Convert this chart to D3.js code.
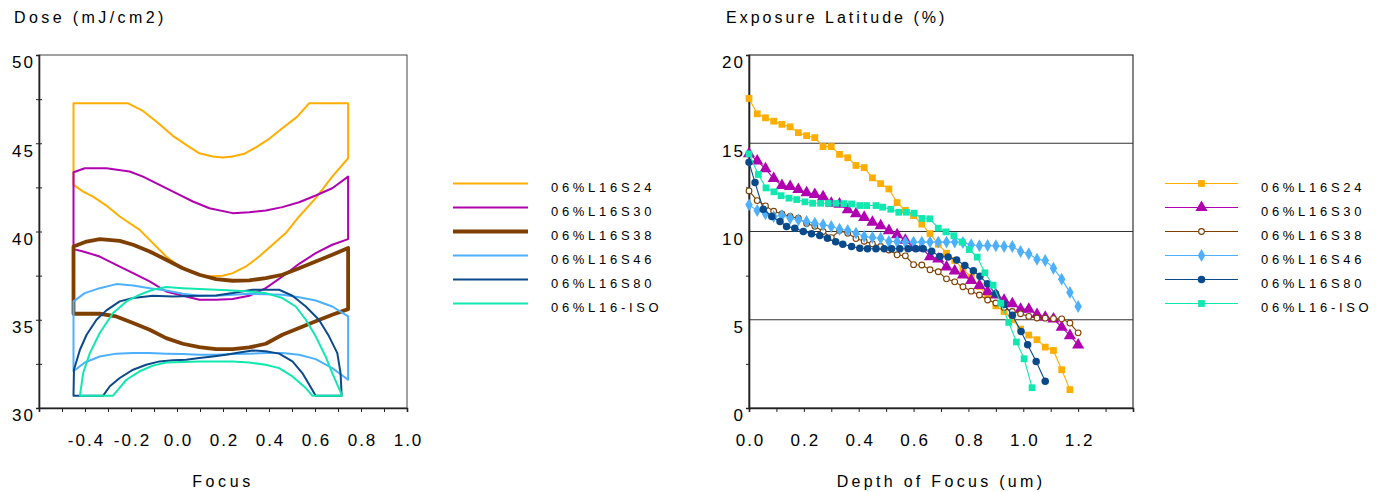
<!DOCTYPE html>
<html><head><meta charset="utf-8">
<script src="https://cdn.jsdelivr.net/npm/d3@7"></script>
<style>
body{margin:0;background:#fff;}
svg{display:block;}
text{font-family:"Liberation Sans",Arial,sans-serif;fill:#000;}
</style></head><body>
<svg id="c" width="1384" height="492"></svg>
<script>
// ---------- DATA ----------
const seriesNames = ["06%L16S24","06%L16S30","06%L16S38","06%L16S46","06%L16S80","06%L16-ISO"];
const seriesColors = ["#FFAE00","#B000B0","#7F3F00","#4DB0FF","#0B4A8A","#10E8B0"];
const leftWidths = [2,2,3.8,2,2,2];

// Left chart: process-window contours (focus, dose). Upper edge left->right, lower edge right->left.
const s24Upper = [[-0.45,47.26],[-0.213,47.26],[-0.148,46.83],[-0.09,46.23],[-0.018,45.42],[0.04,44.91],[0.097,44.43],[0.155,44.25],[0.199,44.19],[0.242,44.25],[0.292,44.40],[0.343,44.77],[0.401,45.25],[0.458,45.85],[0.523,46.51],[0.574,47.26],[0.744,47.26]];
const s24Lower = [[0.744,44.15],[0.675,43.11],[0.603,41.89],[0.531,40.85],[0.473,39.91],[0.415,39.25],[0.357,38.58],[0.30,38.02],[0.242,37.64],[0.199,37.49],[0.126,37.45],[0.069,37.64],[0.011,38.02],[-0.047,38.58],[-0.105,39.34],[-0.162,40.09],[-0.249,40.85],[-0.307,41.47],[-0.365,41.98],[-0.408,42.26],[-0.45,42.64]];
const s30Upper = [[-0.45,43.36],[-0.401,43.58],[-0.307,43.58],[-0.206,43.40],[-0.148,43.11],[-0.076,42.64],[-0.004,42.17],[0.069,41.70],[0.141,41.32],[0.242,41.04],[0.314,41.09],[0.386,41.19],[0.458,41.38],[0.531,41.66],[0.603,42.04],[0.675,42.45],[0.744,43.11]];
const s30Lower = [[0.744,39.57],[0.675,39.25],[0.603,38.77],[0.531,38.17],[0.458,37.45],[0.386,36.79],[0.314,36.36],[0.242,36.17],[0.170,36.13],[0.097,36.13],[0.040,36.32],[-0.047,36.60],[-0.119,37.17],[-0.191,37.64],[-0.264,38.11],[-0.336,38.58],[-0.408,38.87],[-0.45,39.0]];
const s38Upper = [[-0.45,39.15],[-0.393,39.43],[-0.336,39.57],[-0.249,39.47],[-0.191,39.25],[-0.119,38.87],[-0.047,38.40],[0.025,37.92],[0.097,37.55],[0.170,37.30],[0.242,37.21],[0.314,37.23],[0.386,37.36],[0.458,37.55],[0.531,37.92],[0.603,38.30],[0.675,38.68],[0.744,39.06]];
const s38Lower = [[0.744,35.60],[0.675,35.28],[0.603,34.91],[0.531,34.53],[0.458,34.15],[0.386,33.64],[0.314,33.43],[0.242,33.34],[0.170,33.34],[0.097,33.45],[0.025,33.64],[-0.047,33.96],[-0.119,34.43],[-0.191,34.81],[-0.264,35.19],[-0.336,35.34],[-0.45,35.34]];
const s46Upper = [[-0.45,36.04],[-0.401,36.51],[-0.336,36.79],[-0.264,37.02],[-0.191,36.94],[-0.119,36.79],[-0.047,36.66],[0.025,36.47],[0.097,36.36],[0.170,36.36],[0.242,36.42],[0.314,36.47],[0.386,36.45],[0.458,36.42],[0.531,36.28],[0.603,36.09],[0.675,35.75],[0.744,35.19]];
const s46Lower = [[0.744,31.60],[0.675,32.26],[0.603,32.77],[0.531,33.02],[0.458,33.11],[0.386,33.11],[0.314,33.08],[0.242,33.06],[0.170,33.02],[0.097,33.02],[0.025,33.06],[-0.047,33.08],[-0.119,33.11],[-0.191,33.11],[-0.264,33.08],[-0.336,32.92],[-0.401,32.58],[-0.45,32.08]];
const s80Upper = [[-0.45,30.70],[-0.448,32.17],[-0.422,33.30],[-0.393,34.15],[-0.350,35.0],[-0.307,35.53],[-0.249,36.04],[-0.191,36.23],[-0.105,36.36],[-0.018,36.32],[0.097,36.36],[0.170,36.38],[0.242,36.51],[0.329,36.70],[0.444,36.70],[0.502,36.36],[0.560,35.75],[0.617,35.0],[0.661,34.06],[0.697,33.11],[0.711,31.98],[0.716,30.70]];
const s80Lower = [[0.603,30.70],[0.588,31.04],[0.545,31.98],[0.502,32.64],[0.444,33.08],[0.386,33.21],[0.329,33.26],[0.271,33.15],[0.213,33.02],[0.155,32.92],[0.097,32.83],[0.040,32.74],[-0.018,32.70],[-0.076,32.64],[-0.134,32.45],[-0.191,32.17],[-0.249,31.70],[-0.292,31.23],[-0.321,30.70],[-0.45,30.70]];
const isoUpper = [[-0.422,30.70],[-0.408,31.98],[-0.379,33.11],[-0.336,34.25],[-0.278,35.38],[-0.220,36.04],[-0.162,36.42],[-0.105,36.70],[-0.047,36.85],[0.025,36.79],[0.097,36.74],[0.170,36.70],[0.242,36.66],[0.314,36.60],[0.386,36.51],[0.458,36.23],[0.516,35.75],[0.560,35.0],[0.603,34.06],[0.646,32.92],[0.675,31.98],[0.718,30.70]];
const isoLower = [[0.588,30.70],[0.560,31.13],[0.502,31.79],[0.444,32.26],[0.386,32.45],[0.314,32.58],[0.242,32.64],[0.097,32.64],[-0.047,32.58],[-0.105,32.40],[-0.162,32.08],[-0.220,31.60],[-0.278,30.70],[-0.422,30.70]];

// Right chart: exposure latitude (%) vs depth of focus (um)
const dofGrid = [0,0.03,0.06,0.09,0.12,0.15,0.18,0.21,0.24,0.27,0.30,0.33,0.36,0.39,0.42,0.45,0.48,0.51,0.54,0.57,0.60,0.63,0.66,0.69,0.72,0.75,0.78,0.81,0.84,0.87,0.90,0.93,0.96,0.99,1.02,1.05,1.08,1.11,1.14,1.17,1.20];
const elS24 = [17.54,16.67,16.44,16.25,16.07,15.93,15.6,15.43,15.32,14.81,14.81,14.37,14.18,13.74,13.62,13.04,12.71,12.41,11.64,11.2,10.9,10.42,9.88,9.28,8.77,8.36,7.87,7.42,6.89,6.32,5.79,5.47,5.0,4.47,4.13,3.87,3.45,3.26,2.17,1.04];
const elS30 = [14.4,14.0,13.55,13.0,12.6,12.55,12.38,12.2,12.1,11.97,11.6,11.55,11.23,11.0,10.8,10.52,10.33,10.05,9.81,9.5,9.1,9.06,8.57,8.44,7.99,7.76,7.54,7.23,6.94,6.58,6.4,6.1,5.91,5.6,5.6,5.3,5.14,5.04,4.58,4.1,3.57];
const elS38 = [12.3,11.75,11.45,11.15,11.0,10.85,10.75,10.45,10.3,10.0,9.65,10.05,9.9,9.6,9.45,9.3,9.15,8.95,8.68,8.62,8.12,8.1,7.83,7.72,7.32,7.15,6.87,6.62,6.4,6.12,5.95,5.7,5.47,5.34,5.19,5.1,5.09,5.06,5.05,4.81,4.26];
const elS46 = [11.51,11.19,11.0,10.85,10.91,10.75,10.66,10.57,10.47,10.38,10.28,10.13,10.06,9.91,9.72,9.66,9.62,9.43,9.43,9.40,9.40,9.40,9.40,9.40,9.40,9.40,9.38,9.25,9.19,9.21,9.19,9.15,9.15,8.87,8.74,8.43,8.36,7.92,7.30,6.55,5.75];
const dofS80 = [0,0.022,0.052,0.083,0.113,0.137,0.167,0.198,0.228,0.258,0.286,0.316,0.342,0.374,0.404,0.432,0.463,0.493,0.52,0.55,0.58,0.608,0.635,0.666,0.696,0.726,0.757,0.787,0.818,0.842,0.869,0.899,0.93,0.96,0.992,1.016,1.047,1.08];
const elS80 = [13.92,12.77,11.26,10.85,10.57,10.28,10.19,10.0,9.87,9.77,9.62,9.42,9.28,9.15,9.05,9.02,9.02,9.02,9.02,9.02,9.02,9.02,9.02,8.88,8.58,8.56,8.38,8.07,7.78,7.47,7.04,6.47,5.87,5.26,4.34,3.58,2.64,1.51];
const dofISO = [0,0.034,0.062,0.091,0.117,0.146,0.174,0.204,0.232,0.261,0.289,0.317,0.346,0.374,0.404,0.429,0.463,0.487,0.517,0.546,0.574,0.602,0.631,0.659,0.690,0.718,0.747,0.777,0.803,0.832,0.860,0.890,0.918,0.947,0.975,1.003,1.032];
const elISO = [14.4,13.23,12.47,12.25,12.03,11.89,11.81,11.68,11.6,11.6,11.6,11.6,11.58,11.56,11.47,11.47,11.47,11.38,11.26,11.09,11.09,11.04,10.74,10.72,10.19,9.98,9.76,9.4,8.98,8.55,7.66,6.96,5.94,4.85,3.74,2.79,1.15];

// Axis ticks / labels
const focusLabelTicks = [-0.4,-0.2,0.0,0.2,0.4,0.6,0.8,1.0];
const focusMinorTicks = [-0.5,-0.4,-0.3,-0.2,-0.1,0.0,0.1,0.2,0.3,0.4,0.5,0.6,0.7,0.8,0.9,1.0];
const doseLabelTicks = [30,35,40,45,50];
const doseMinorTicks = [32.5,35,37.5,40,42.5,45,47.5];
const dofLabelTicks = [0.0,0.2,0.4,0.6,0.8,1.0,1.2];
const dofMinorTicks = [0.1,0.2,0.3,0.4,0.5,0.6,0.7,0.8,0.9,1.0,1.1,1.2,1.3,1.4];
const elLabelTicks = [0,5,10,15,20];
const elGridTicks = [5,10,15];
const elMinorTicks = [2.5,7.5,12.5,17.5];

// ---------- DRAW ----------
const svg = d3.select("#c");
const fmt = d => d.toFixed(1);
const tickFont = {size:"17px", ls:"2px"};

// ===== Left chart =====
const xL = d3.scaleLinear().domain([-0.6,1.0]).range([39,407]);
const yL = d3.scaleLinear().domain([30,50]).range([408,55]);
const gL = svg.append("g");

gL.append("rect").attr("x",xL(-0.6)).attr("y",yL(50)).attr("width",xL(1.0)-xL(-0.6)).attr("height",yL(30)-yL(50))
  .attr("fill","none").attr("stroke","#444").attr("stroke-width",1);

const contours = [[s24Upper,s24Lower],[s30Upper,s30Lower],[s38Upper,s38Lower],[s46Upper,s46Lower],[s80Upper,s80Lower],[isoUpper,isoLower]];
const lineL = d3.line().x(d=>xL(d[0])).y(d=>yL(d[1]));
contours.forEach((c,i)=>{
  gL.append("path").attr("d", lineL(c[0].concat(c[1])) + "Z")
    .attr("fill","none").attr("stroke",seriesColors[i]).attr("stroke-width",leftWidths[i]).attr("stroke-linejoin","round");
});

function styleLabels(sel){
  sel.selectAll("text").attr("font-family","Liberation Sans").style("font-size",tickFont.size).style("letter-spacing",tickFont.ls).attr("fill","#000");
}

const axL_minor = gL.append("g").attr("transform",`translate(0,${yL(30)})`)
  .call(d3.axisBottom(xL).tickValues(focusMinorTicks).tickSize(4).tickFormat(""));
axL_minor.select(".domain").attr("stroke","#222").attr("stroke-width",1.6);
axL_minor.selectAll(".tick line").attr("stroke","#222");
const axL_lab = gL.append("g").attr("transform",`translate(0,${yL(30)})`)
  .call(d3.axisBottom(xL).tickValues(focusLabelTicks).tickSize(0).tickPadding(26).tickFormat(fmt));
axL_lab.select(".domain").remove();
styleLabels(axL_lab); axL_lab.selectAll("text").attr("dx","1px");

const ayL = gL.append("g").attr("transform",`translate(${xL(-0.6)},0)`)
  .call(d3.axisLeft(yL).tickValues(doseMinorTicks).tickSize(3).tickFormat(""));
ayL.select(".domain").attr("stroke","#222").attr("stroke-width",1.6);
ayL.selectAll(".tick line").attr("stroke","#222").attr("x2",-3).attr("x1",3);
const ayL_lab = gL.append("g").attr("transform",`translate(${xL(-0.6)},0)`)
  .call(d3.axisLeft(yL).tickValues(doseLabelTicks).tickSize(0).tickPadding(4).tickFormat(d3.format("d")));
ayL_lab.select(".domain").remove();
styleLabels(ayL_lab); ayL_lab.selectAll("text").attr("dy","0.75em");

gL.append("text").attr("x",14).attr("y",23).text("Dose (mJ/cm2)").style("font-size","16px").style("letter-spacing","3.4px");
gL.append("text").attr("x",(xL(-0.6)+xL(1.0))/2).attr("y",487).attr("text-anchor","middle").text("Focus").style("font-size","16px").style("letter-spacing","3.6px");

const legL = gL.append("g");
seriesNames.forEach((n,i)=>{
  const y = 183.5 + i*24;
  legL.append("line").attr("x1",453).attr("x2",528).attr("y1",y).attr("y2",y).attr("stroke",seriesColors[i]).attr("stroke-width",leftWidths[i]);
  legL.append("text").attr("x",551).attr("y",y+8.5).text(n).style("font-size","13px").style("letter-spacing","3.7px");
});

// ===== Right chart =====
const xR = d3.scaleLinear().domain([0,1.4]).range([749,1133]);
const yR = d3.scaleLinear().domain([0,20]).range([408,55]);
const gR = svg.append("g");

gR.append("rect").attr("x",xR(0)).attr("y",yR(20)).attr("width",xR(1.4)-xR(0)).attr("height",yR(0)-yR(20))
  .attr("fill","none").attr("stroke","#333").attr("stroke-width",1.2);
gR.append("g").selectAll("line").data(elGridTicks).join("line")
  .attr("x1",xR(0)).attr("x2",xR(1.4)).attr("y1",d=>yR(d)).attr("y2",d=>yR(d)).attr("stroke","#333").attr("stroke-width",1.2);

const axR_minor = gR.append("g").attr("transform",`translate(0,${yR(0)})`)
  .call(d3.axisBottom(xR).tickValues(dofMinorTicks).tickSize(4).tickFormat(""));
axR_minor.select(".domain").attr("stroke","#222").attr("stroke-width",1.6);
axR_minor.selectAll(".tick line").attr("stroke","#222");
const axR_lab = gR.append("g").attr("transform",`translate(0,${yR(0)})`)
  .call(d3.axisBottom(xR).tickValues(dofLabelTicks).tickSize(0).tickPadding(26).tickFormat(fmt));
axR_lab.select(".domain").remove();
styleLabels(axR_lab); axR_lab.selectAll("text").attr("dx","1px");

const ayR = gR.append("g").attr("transform",`translate(${xR(0)},0)`)
  .call(d3.axisLeft(yR).tickValues(elMinorTicks).tickSize(3).tickFormat(""));
ayR.select(".domain").attr("stroke","#222").attr("stroke-width",1.6);
ayR.selectAll(".tick line").attr("stroke","#222");
const ayR_lab = gR.append("g").attr("transform",`translate(${xR(0)},0)`)
  .call(d3.axisLeft(yR).tickValues(elLabelTicks).tickSize(0).tickPadding(4).tickFormat(d3.format("d")));
ayR_lab.select(".domain").remove();
styleLabels(ayR_lab); ayR_lab.selectAll("text").attr("dy","0.75em");

gR.append("text").attr("x",726).attr("y",23).text("Exposure Latitude (%)").style("font-size","16px").style("letter-spacing","3.0px");
gR.append("text").attr("x",(xR(0)+xR(1.4))/2).attr("y",487).attr("text-anchor","middle").text("Depth of Focus (um)").style("font-size","16px").style("letter-spacing","3.3px");

const rSeries = [
  {x:dofGrid.slice(0,elS24.length), y:elS24, sym:"square"},
  {x:dofGrid, y:elS30, sym:"triangle"},
  {x:dofGrid, y:elS38, sym:"hollow"},
  {x:dofGrid, y:elS46, sym:"diamond"},
  {x:dofS80, y:elS80, sym:"circle"},
  {x:dofISO, y:elISO, sym:"square"}
];
const symbolPath = {
  square: d3.symbol().type(d3.symbolSquare).size(46)(),
  triangle: d3.symbol().type(d3.symbolTriangle).size(64)(),
  hollow: d3.symbol().type(d3.symbolCircle).size(26)(),
  diamond: d3.symbol().type(d3.symbolDiamond).size(48)(),
  circle: d3.symbol().type(d3.symbolCircle).size(44)()
};
function drawMarker(g, sym, color, cx, cy){
  const p = g.append("path").attr("d",symbolPath[sym]).attr("transform",`translate(${cx},${cy})`);
  if(sym==="hollow") p.attr("fill","#fff").attr("stroke",color).attr("stroke-width",1.1);
  else p.attr("fill",color);
}
const lineR = d3.line().x(d=>xR(d[0])).y(d=>yR(d[1]));
rSeries.forEach((s,i)=>{
  const pts = s.y.map((v,k)=>[s.x[k],v]);
  const g = gR.append("g");
  g.append("path").attr("d",lineR(pts)).attr("fill","none").attr("stroke",seriesColors[i]).attr("stroke-width",1.1);
  pts.forEach(p=>drawMarker(g,s.sym,seriesColors[i],xR(p[0]),yR(p[1])));
});

const legR = gR.append("g");
seriesNames.forEach((n,i)=>{
  const y = 183.5 + i*24;
  legR.append("line").attr("x1",1165).attr("x2",1238).attr("y1",y).attr("y2",y).attr("stroke",seriesColors[i]).attr("stroke-width",1.2);
  drawMarker(legR, rSeries[i].sym, seriesColors[i], 1201.5, y);
  legR.append("text").attr("x",1261).attr("y",y+8.5).text(n).style("font-size","13px").style("letter-spacing","3.7px");
});
</script>
</body></html>
